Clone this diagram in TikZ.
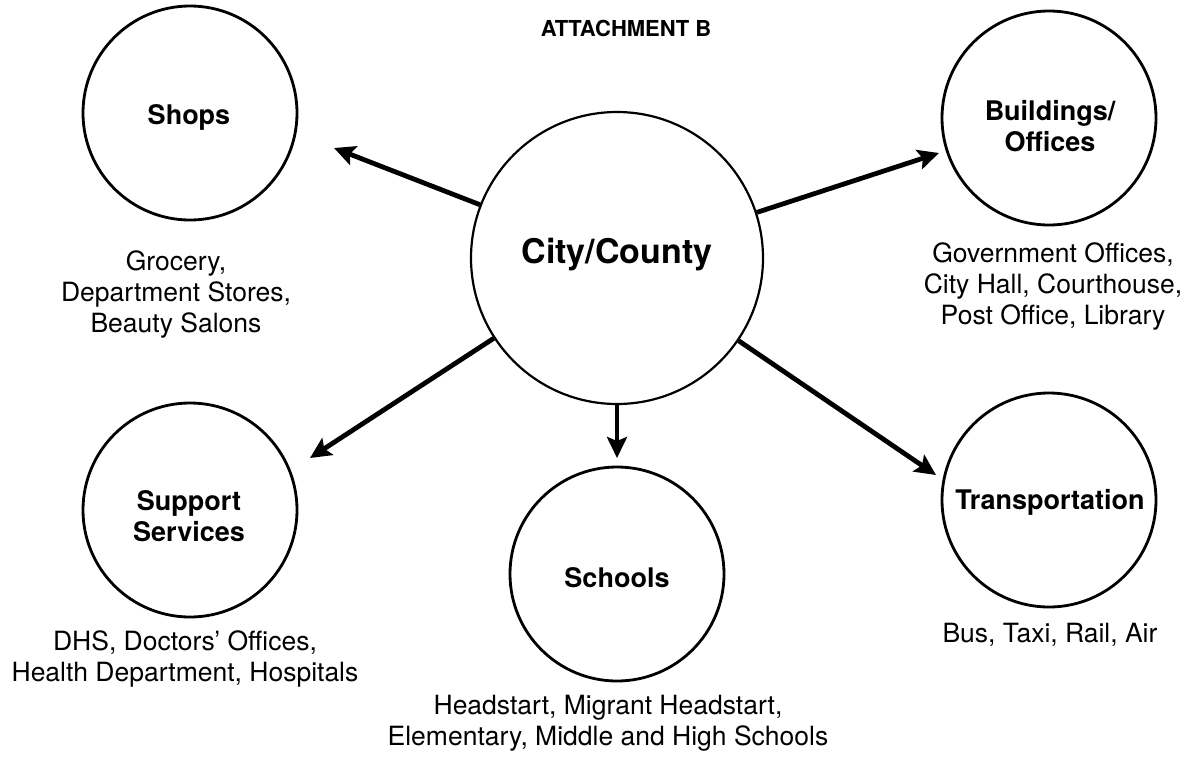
\documentclass[tikz,border=0pt]{standalone}
\usepackage{fontspec}
\setmainfont{TeX Gyre Heros}
\usetikzlibrary{arrows.meta}
\begin{document}
\begin{tikzpicture}[x=1pt,y=-1pt,
  hub/.style={circle,draw,line width=2.2pt,minimum size=292pt,inner sep=0pt},
  sat/.style={circle,draw,line width=2.8pt,minimum size=214pt,inner sep=0pt},
  lbl/.style={font=\fontsize{27}{31}\selectfont\bfseries,align=center,inner sep=0pt},
  desc/.style={font=\fontsize{26.5}{31}\selectfont,align=center,inner sep=0pt},
  arr/.style={line width=4.8pt,-{Stealth[length=21pt,width=20pt,inset=4pt]}}]
\useasboundingbox (0,0) rectangle (1189,756);

\node[font=\fontsize{22}{25}\selectfont\bfseries,inner sep=0pt] (title) at (626,28) {ATTACHMENT B};

% circles
\node[hub] (city) at (617,258) {};
\node[sat] (shops) at (190,113) {};
\node[sat] (bldg) at (1049,118) {};
\node[sat] (supp) at (190,510) {};
\node[sat] (schools) at (617,574) {};
\node[sat] (trans) at (1049,500) {};

% circle labels
\node[lbl,font=\fontsize{34}{40}\selectfont\bfseries] (cityT) at (617,255) {City/County};
\node[lbl] (shopsT) at (189,117) {Shops};
\node[lbl] (bldgT) at (1050,126) {Buildings/\\Offices};
\node[lbl] (suppT) at (189,516) {Support\\Services};
\node[lbl] (schoolsT) at (617,578) {Schools};
\node[lbl] (transT) at (1050,502) {Transportation};

% descriptions
\node[desc] (shopsD) at (176,294) {Grocery,\\Department Stores,\\Beauty Salons};
\node[desc] (bldgD) at (1053,286) {Government Offices,\\City Hall, Courthouse,\\Post Office, Library};
\node[desc] (suppD) at (185,659) {DHS, Doctors’ Offices,\\Health Department, Hospitals};
\node[desc] (schoolsD) at (608,723) {Headstart, Migrant Headstart,\\Elementary, Middle and High Schools};
\node[desc] (transD) at (1050,635) {Bus, Taxi, Rail, Air};

% arrow tips
\coordinate (tShops) at (334,148);
\coordinate (tBldg) at (939,153);
\coordinate (tSupp) at (310,458);
\coordinate (tSchools) at (617,458);
\coordinate (tTrans) at (936,475);

\draw[arr] (city) -- (tShops);
\draw[arr] (city) -- (tBldg);
\draw[arr] (city) -- (tSupp);
\draw[arr] (city) -- (tSchools);
\draw[arr] (city) -- (tTrans);
\end{tikzpicture}
\end{document}
